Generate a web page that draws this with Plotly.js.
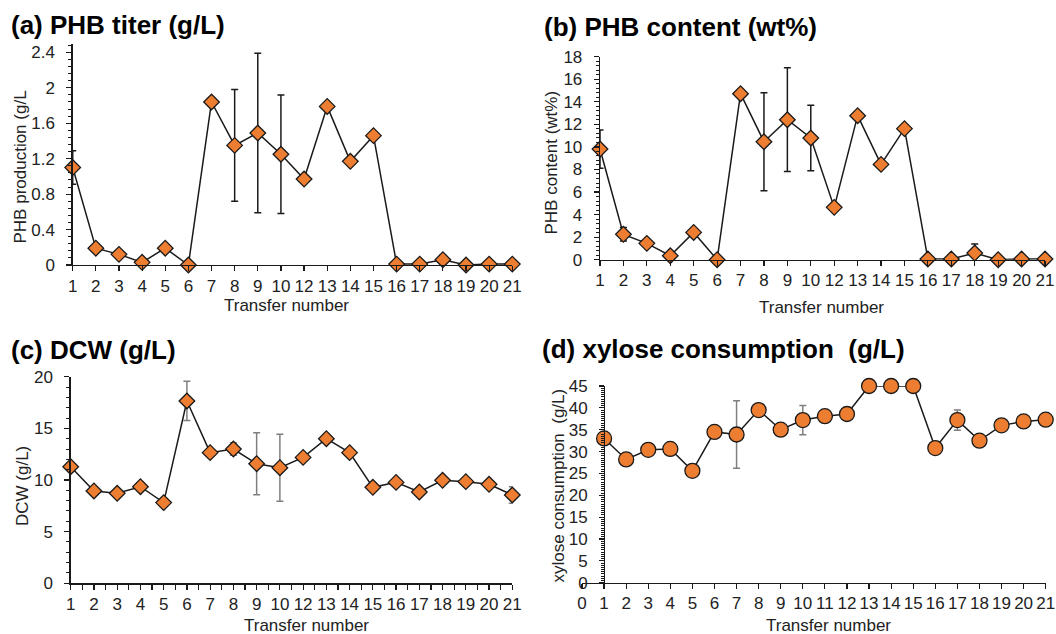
<!DOCTYPE html>
<html>
<head>
<meta charset="utf-8">
<script src="https://cdn.plot.ly/plotly-3.0.1.min.js"></script>
<style>html,body{margin:0;padding:0;background:#fff}#chart{width:1056px;height:634px}</style>
</head>
<body>
<div id="chart"></div>
<script>
// ---- data ----
const transfersABC = ['1','2','3','4','5','6','7','8','9','10','12','13','14','15','16','17','18','19','20','21'];
const phbTiter     = [1.10,0.19,0.12,0.03,0.19,0.00,1.84,1.35,1.49,1.25,0.97,1.79,1.17,1.46,0.01,0.01,0.06,0.00,0.01,0.01];
const phbTiterErr  = [0.19,0,0,0,0,0,0,0.63,0.90,0.67,0,0,0,0,0,0,0.05,0,0,0];
const phbContent   = [9.81,2.25,1.45,0.35,2.42,0.00,14.72,10.46,12.41,10.79,4.64,12.77,8.45,11.62,0.06,0.06,0.59,0.00,0.06,0.06];
const phbContentErr= [1.7,0.6,0,0,0,0,0,4.35,4.6,2.9,0,0,0,0,0,0,0.8,0,0,0];
const dcw          = [11.29,8.94,8.71,9.35,7.81,17.65,12.65,13.0,11.58,11.19,12.19,14.0,12.65,9.29,9.77,8.84,9.97,9.84,9.58,8.55];
const dcwErr       = [0,0,0,0,0,1.9,0,0.6,3.0,3.25,0,0,0,0,0,0,0,0,0,0.8];
const transfersD   = [1,2,3,4,5,6,7,8,9,10,11,12,13,14,15,16,17,18,19,20,21];
const xylose       = [33.0,28.2,30.4,30.6,25.6,34.5,33.9,39.5,35.0,37.2,38.1,38.6,45.0,45.0,45.0,30.8,37.2,32.5,36.0,36.9,37.3];
const xyloseErr    = [0,0,0,0,0,0,7.7,0,0,3.35,0,0,0,0,0,0,2.3,0,0,0,0];

const panelTitles = ['(a) PHB titer (g/L)','(b) PHB content (wt%)','(c) DCW (g/L)','(d) xylose consumption \u00a0(g/L)'];
const yTitles = ['PHB production (g/L','PHB content (wt%)','DCW (g/L)','xylose consumption \u00a0(g/L)'];
const xTitle = 'Transfer number';

// ---- styling / layout ----
const W = 1056, H = 634;
const px = v => v / W, py = v => 1 - v / H;
const ORANGE = '#ED7D31', INK = '#1a1a1a', GREY = '#7f7f7f';
const FONT = 'Liberation Sans, Arial, sans-serif';
const tickFont = {family: FONT, size: 17, color: '#222'};
const idx = transfersABC.map((_, i) => i);

function series(xa, ya, x, y, err, errColor, symbol, size) {
  return {
    type: 'scatter', mode: 'lines+markers', xaxis: xa, yaxis: ya, x: x, y: y,
    cliponaxis: false, showlegend: false,
    line: {color: INK, width: 1.5},
    marker: {symbol: symbol, size: size, color: ORANGE, line: {color: INK, width: 1.3}},
    error_y: {type: 'data', array: err, visible: true, color: errColor, thickness: 1.5, width: 3.5}
  };
}

const data = [
  series('x', 'y', idx, phbTiter, phbTiterErr, INK, 'diamond', 12),
  series('x2', 'y2', idx, phbContent, phbContentErr, INK, 'diamond', 12),
  series('x3', 'y3', idx, dcw, dcwErr, GREY, 'diamond', 12),
  series('x4', 'y4', transfersD, xylose, xyloseErr, GREY, 'circle', 15)
];

function yAxis(domain, range, dtick, minor, extra) {
  return Object.assign({
    domain: domain, range: range, tickmode: 'linear', tick0: 0, dtick: dtick,
    showline: true, linecolor: INK, linewidth: 1.3, ticks: 'outside', ticklen: 5, tickwidth: 1.2, tickcolor: INK,
    minor: {ticks: 'outside', tickmode: 'linear', tick0: 0, dtick: minor, ticklen: 3, tickwidth: 1, tickcolor: INK},
    showgrid: false, zeroline: false, tickfont: tickFont, ticklabelstandoff: 8, fixedrange: true
  }, extra || {});
}
function xCat(domain, anchor, withMinor) {
  const ax = {
    domain: domain, anchor: anchor, range: [0, transfersABC.length - 1],
    tickmode: 'array', tickvals: idx, ticktext: transfersABC,
    showline: true, linecolor: INK, linewidth: 1.3, ticks: 'outside', ticklen: 5, tickwidth: 1.2, tickcolor: INK,
    showgrid: false, zeroline: false, tickfont: tickFont, fixedrange: true
  };
  if (withMinor) ax.minor = {ticks: 'outside', tickmode: 'linear', tick0: 0.5, dtick: 1, ticklen: 5, tickwidth: 1.2, tickcolor: INK};
  return ax;
}

const dA = {x: [px(72.7), px(512.3)], y: [py(265), py(43.5)]};
const dB = {x: [px(600), px(1045)], y: [py(259.7), py(56.7)]};
const dC = {x: [px(70.7), px(512.3)], y: [py(583.3), py(376.7)]};
const dD = {x: [px(582), px(1045.7)], y: [py(582.7), py(386)]};
const dYpos = px(582 + (1045.7 - 582) / 21);

function ann(text, x, y, opts) {
  return Object.assign({text: text, xref: 'paper', yref: 'paper', x: px(x), y: py(y), showarrow: false,
    xanchor: 'center', yanchor: 'middle', font: {family: FONT, size: 17, color: '#222'}}, opts || {});
}
const titleFont = {family: FONT, size: 26, color: '#000', weight: 'bold'};
const annotations = [
  ann('<b>' + panelTitles[0] + '</b>', 9, 25, {xanchor: 'left', font: titleFont}),
  ann('<b>' + panelTitles[1] + '</b>', 542, 27, {xanchor: 'left', font: titleFont}),
  ann('<b>' + panelTitles[2] + '</b>', 9, 350, {xanchor: 'left', font: titleFont}),
  ann('<b>' + panelTitles[3] + '</b>', 540, 349, {xanchor: 'left', font: titleFont}),
  ann(yTitles[0], 19.5, 167, {textangle: -90}),
  ann(yTitles[1], 551.5, 163, {textangle: -90}),
  ann(yTitles[2], 22, 486, {textangle: -90}),
  ann(yTitles[3], 557.5, 486, {textangle: -90}),
  ann(xTitle, 286.5, 305),
  ann(xTitle, 821, 307),
  ann(xTitle, 306, 625),
  ann(xTitle, 828, 625)
];

const layout = {
  width: W, height: H, margin: {l: 0, r: 0, t: 0, b: 0},
  paper_bgcolor: '#fff', plot_bgcolor: '#fff', showlegend: false,
  font: {family: FONT, color: '#222'},
  xaxis: xCat(dA.x, 'y', false),
  yaxis: yAxis(dA.y, [0, 2.5], 0.4, 0.08, {anchor: 'x'}),
  xaxis2: xCat(dB.x, 'y2', false),
  yaxis2: yAxis(dB.y, [0, 18], 2, 0.4, {anchor: 'x2'}),
  xaxis3: xCat(dC.x, 'y3', true),
  yaxis3: yAxis(dC.y, [0, 20], 5, 1, {anchor: 'x3'}),
  xaxis4: {
    domain: dD.x, anchor: 'y4', range: [0, 21], tickmode: 'linear', tick0: 0, dtick: 1,
    showline: true, linecolor: INK, linewidth: 1.3, ticks: 'outside', ticklen: 5, tickwidth: 1.2, tickcolor: INK,
    showgrid: false, zeroline: false, tickfont: tickFont, fixedrange: true
  },
  yaxis4: yAxis(dD.y, [0, 45], 5, 0.5, {anchor: 'free', position: dYpos}),
  annotations: annotations
};

Plotly.newPlot('chart', data, layout, {staticPlot: true, displayModeBar: false});
</script>
</body>
</html>
